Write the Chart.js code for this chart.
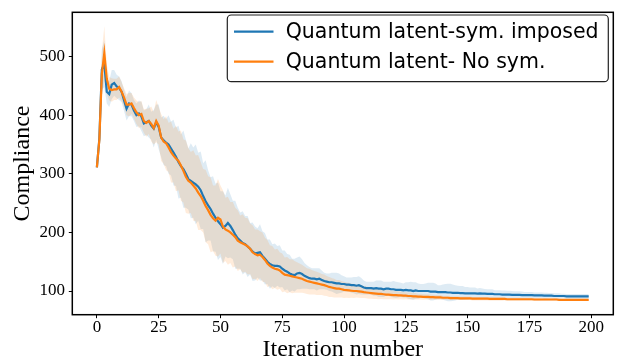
<!DOCTYPE html>
<html lang="en">
<head>
    <meta charset="utf-8">
    <script src="https://cdn.jsdelivr.net/npm/chart.js@4/dist/chart.umd.min.js"></script>
    <style>
        body { margin: 0; background: #fff; }
        #canvas-container { position: relative; width: 617px; height: 362px; }
    </style>
</head>
<body>

<div id="canvas-container">
    <canvas id="compliance-chart" width="617" height="362"></canvas>
</div>

<script>
    const seriesNames = ["Quantum latent-sym. imposed", "Quantum latent- No sym."];
    const xTicks = [0, 25, 50, 75, 100, 125, 150, 175, 200];
    const yTicks = [100, 200, 300, 400, 500];

    // mean compliance per iteration, symmetry imposed
    const symMean = [
        311, 360, 478, 488, 440, 436, 452, 455, 449, 446,
        440, 425, 411, 420, 418, 408, 400, 403, 398, 386,
        388, 390, 382, 377, 388, 380, 362, 357, 353, 350,
        343, 336, 329, 320, 313, 308, 300, 291, 288, 285,
        282, 278, 272, 262, 253, 246, 240, 232, 225, 219,
        214, 208, 211, 216, 211, 204, 196, 190, 186, 182,
        180, 176, 172, 167, 164, 165, 166, 160, 155, 150,
        146, 144, 143, 143, 142, 138, 135, 133, 130, 128,
        127, 130, 131, 129, 126, 124, 122, 121, 121, 120,
        121, 119, 117, 116, 115, 115, 114, 113, 113, 112,
        112, 111, 111, 110, 110, 109, 110, 108, 106, 105,
        105, 105, 104, 105, 104, 104, 103, 104, 104, 103,
        103, 102, 102, 102, 101, 102, 101, 101, 100, 101,
        100, 100, 100, 100, 100, 99, 99, 99, 98, 98,
        98, 98, 97.5, 97.5, 97, 97, 97, 96.5, 96.5, 96,
        96, 96, 96, 96, 95.5, 96, 95.5, 95.5, 95, 95,
        95, 94.5, 94.5, 94.5, 94, 94, 94, 94, 93.5, 93.5,
        93.5, 93.5, 93, 93, 93, 93, 93, 92.5, 92.5, 92.5,
        92.5, 92, 92, 92, 92, 91.5, 91.5, 91.5, 91.5, 91.5,
        91, 91, 91, 91, 91, 91, 91, 91, 91, 91
    ];
    const symStd = [
        3, 12, 35, 40, 20, 22, 25, 22, 20, 20,
        18, 18, 20, 22, 20, 18, 20, 22, 25, 22,
        22, 28, 24, 32, 30, 38, 34, 42, 40, 50,
        46, 56, 50, 62, 54, 66, 58, 52, 64, 60,
        68, 58, 66, 56, 70, 60, 54, 64, 58, 66,
        56, 62, 52, 60, 54, 50, 58, 52, 48, 54,
        48, 52, 44, 50, 46, 42, 48, 42, 44, 38,
        42, 36, 38, 34, 36, 31, 34, 30, 32, 27,
        28, 27, 28, 25, 22, 20, 19, 18, 18, 19,
        18, 16, 14, 14, 15, 16, 17, 18, 17, 15,
        13, 12, 12, 13, 14, 15, 15, 14, 12, 11,
        11, 11, 12, 13, 14, 14, 13, 12, 12, 13,
        14, 14, 13, 12, 12, 13, 14, 15, 15, 14,
        13, 12, 12, 13, 14, 15, 15, 14, 12, 12,
        13, 14, 15, 15, 14, 13, 12, 12, 12, 11,
        11, 10, 10, 10, 9, 9, 9, 8, 8, 8,
        8, 7, 7, 7, 7, 7, 6.5, 6.5, 6.5, 6,
        6, 6, 6, 5.5, 5.5, 5.5, 5.5, 5, 5, 5,
        5, 5, 5, 4.5, 4.5, 4.5, 4.5, 4.5, 4, 4,
        4, 4, 4, 4, 4, 4, 4, 4, 4, 4
    ];

    // mean compliance per iteration, no symmetry
    const noSymMean = [
        311, 358, 470, 506, 462, 445, 443, 444, 444, 448,
        440, 430, 418, 418, 420, 412, 405, 400, 402, 390,
        387, 390, 385, 378, 390, 382, 362, 355, 352, 345,
        337, 331, 326, 322, 314, 305, 295, 288, 285, 280,
        275, 268, 262, 254, 245, 238, 230, 224, 220, 225,
        222, 210, 205, 203, 200, 196, 192, 186, 183, 181,
        179, 176, 172, 166, 163, 161, 162, 158, 153, 147,
        143, 140, 138, 137, 135, 131, 128, 127, 126, 125,
        124, 123, 122, 121, 119, 117, 116, 115, 114, 113,
        112, 111, 110, 108.5, 107, 106, 105, 104, 104, 103,
        102, 101.5, 101, 100.5, 100, 100, 99.5, 99, 98, 97.5,
        97, 96.5, 96, 95.5, 95, 95, 94.5, 94, 94, 93.5,
        93, 93, 92.5, 92.5, 92, 92, 91.5, 91.5, 91, 91,
        90.5, 90.5, 90, 90, 90, 89.5, 89.5, 89, 89, 89,
        88.5, 88.5, 88.5, 88, 88, 88, 88, 87.5, 87.5, 87.5,
        87.5, 87.5, 87, 87, 87, 87, 87, 87, 87, 86.5,
        86.5, 86.5, 86.5, 86.5, 86.5, 86.5, 86, 86, 86, 86,
        86, 86, 86, 86, 86, 86, 86, 85.5, 85.5, 85.5,
        85.5, 85.5, 85.5, 85.5, 85.5, 85.5, 85.5, 85, 85, 85,
        85, 85, 85, 85, 85, 85, 85, 85, 85, 85
    ];
    const noSymStd = [
        3, 12, 38, 46, 25, 20, 20, 18, 18, 18,
        16, 16, 18, 20, 18, 18, 20, 22, 22, 20,
        24, 22, 30, 28, 36, 32, 40, 38, 46, 42,
        52, 46, 56, 50, 60, 54, 62, 56, 52, 60,
        56, 64, 58, 54, 62, 58, 64, 56, 60, 66,
        58, 62, 54, 58, 52, 56, 50, 52, 46, 50,
        46, 48, 43, 46, 42, 44, 40, 42, 38, 40,
        35, 37, 33, 35, 31, 33, 29, 31, 28, 29,
        27, 26, 25, 24, 23, 22, 22, 21, 20, 20,
        19, 18, 18, 17, 17, 16, 16, 15, 15, 14,
        14, 13, 13, 12, 12, 11, 11, 11, 10, 10,
        10, 9.5, 9.5, 9, 9, 8.5, 8.5, 8, 8, 7.5,
        7.5, 7, 7, 6.5, 6.5, 6, 6, 6, 5.5, 5.5,
        5, 5, 5, 4.5, 4.5, 4.5, 4, 4, 4, 4,
        3.5, 3.5, 3.5, 3.5, 3, 3, 3, 3, 3, 3,
        3, 3, 3, 3, 3, 3, 3, 3, 3, 3,
        3, 3, 3, 3, 3, 2.5, 2.5, 2.5, 2.5, 2.5,
        2.5, 2.5, 2.5, 2.5, 2.5, 2.5, 2.5, 2.5, 2.5, 2.5,
        2, 2, 2, 2, 2, 2, 2, 2, 2, 2,
        2, 2, 2, 2, 2, 2, 2, 2, 2, 2
    ];

    const blue = "#1f77b4";
    const orange = "#ff7f0e";

    function points(values) {
        return values.map((v, i) => ({ x: i, y: v }));
    }
    function band(mean, std, sign) {
        return mean.map((m, i) => ({ x: i, y: m + sign * std[i] }));
    }

    // matplotlib-like frame and legend box
    const framePlugin = {
        id: "frame",
        afterDatasetsDraw(chart) {
            const a = chart.chartArea;
            const ctx = chart.ctx;
            ctx.save();
            ctx.strokeStyle = "#000";
            ctx.lineWidth = 1.5;
            ctx.strokeRect(a.left, a.top, a.right - a.left, a.bottom - a.top);
            ctx.restore();
        },
        afterDraw(chart) {
            const ctx = chart.ctx;
            const x = 227.3, y = 15, w = 381, h = 66.7, r = 4;
            ctx.save();
            ctx.beginPath();
            ctx.roundRect(x, y, w, h, r);
            ctx.fillStyle = "rgba(255,255,255,0.8)";
            ctx.fill();
            ctx.strokeStyle = "#222";
            ctx.lineWidth = 1.2;
            ctx.stroke();

            const rows = [[seriesNames[0], blue, 31.7], [seriesNames[1], orange, 61.7]];
            ctx.font = "20.5px 'DejaVu Sans'";
            ctx.textBaseline = "middle";
            ctx.textAlign = "left";
            rows.forEach(([label, color, ly]) => {
                ctx.beginPath();
                ctx.moveTo(234, ly);
                ctx.lineTo(273.5, ly);
                ctx.strokeStyle = color;
                ctx.lineWidth = 2.2;
                ctx.stroke();
                ctx.fillStyle = "#000";
                ctx.fillText(label, 285.7, ly + 1.2);
            });
            ctx.restore();
        }
    };

    const lineStyle = { pointRadius: 0, borderWidth: 2.2, tension: 0, fill: false };
    const bandEdge = { pointRadius: 0, borderWidth: 0, tension: 0, borderColor: "transparent" };

    const ctx = document.getElementById("compliance-chart").getContext("2d");

    const ch = new Chart(ctx, {
        type: "line",
        data: {
            datasets: [
                Object.assign({ label: seriesNames[1], data: points(noSymMean), borderColor: orange, order: 0 }, lineStyle),
                Object.assign({ label: seriesNames[0], data: points(symMean), borderColor: blue, order: 1 }, lineStyle),
                Object.assign({ data: band(noSymMean, noSymStd, 1), fill: "+1", backgroundColor: "rgba(255,127,14,0.15)", order: 2 }, bandEdge),
                Object.assign({ data: band(noSymMean, noSymStd, -1), fill: false, order: 2 }, bandEdge),
                Object.assign({ data: band(symMean, symStd, 1), fill: "+1", backgroundColor: "rgba(31,119,180,0.15)", order: 3 }, bandEdge),
                Object.assign({ data: band(symMean, symStd, -1), fill: false, order: 3 }, bandEdge)
            ]
        },
        options: {
            responsive: false,
            animation: false,
            layout: { padding: { top: 9.3, right: 3.7, left: 0, bottom: 0 } },
            plugins: {
                legend: { display: false },
                tooltip: { enabled: false }
            },
            scales: {
                x: {
                    type: "linear",
                    min: -9.95,
                    max: 208.95,
                    afterBuildTicks: s => { s.ticks = xTicks.map(v => ({ value: v })); },
                    afterFit: s => { s.height = 47.3; },
                    grid: { drawOnChartArea: false, drawTicks: true, tickLength: 3.5, tickColor: "#000", tickWidth: 1 },
                    border: { display: false },
                    ticks: {
                        color: "#000",
                        padding: 1,
                        maxRotation: 0,
                        font: { family: "'Liberation Serif'", size: 17, lineHeight: 1 }
                    },
                    title: {
                        display: true,
                        text: "Iteration number",
                        color: "#000",
                        padding: { top: 0, bottom: 0 },
                        font: { family: "'Liberation Serif'", size: 24, lineHeight: 1 }
                    }
                },
                y: {
                    min: 59.6,
                    max: 575.5,
                    afterBuildTicks: s => { s.ticks = yTicks.map(v => ({ value: v })); },
                    afterFit: s => { s.width = 72.3; },
                    grid: { drawOnChartArea: false, drawTicks: true, tickLength: 3.5, tickColor: "#000", tickWidth: 1 },
                    border: { display: false },
                    ticks: {
                        color: "#000",
                        padding: 3.8,
                        font: { family: "'Liberation Serif'", size: 17, lineHeight: 1 }
                    },
                    title: {
                        display: true,
                        text: "Compliance",
                        color: "#000",
                        padding: { top: 10.9, bottom: 0 },
                        font: { family: "'Liberation Serif'", size: 24, lineHeight: 1 }
                    }
                }
            }
        },
        plugins: [framePlugin]
    });
</script>

</body>
</html>
